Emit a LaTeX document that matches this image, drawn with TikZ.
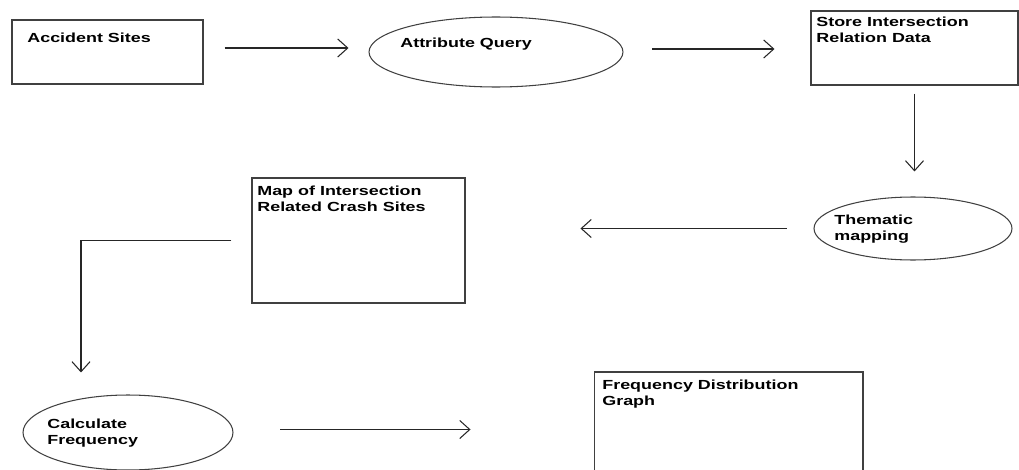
\documentclass[tikz,border=0pt]{standalone}
\usepackage{fontspec}
\setmainfont{Liberation Sans}[FakeStretch=1.36]
\usetikzlibrary{arrows.meta,shapes.geometric}

\begin{document}
\begin{tikzpicture}[x=0.02cm, y=-0.02cm,
    box/.style={draw=black!75, line width=0.6pt, inner sep=0pt},
    oval/.style={ellipse, draw=black!75, line width=0.6pt, inner sep=0pt},
    txt/.style={anchor=north west, inner sep=0pt, align=left, font=\bfseries\fontsize{7.5}{8.8}\selectfont},
    arr/.style={-{Straight Barb[length=2mm, width=3.6mm]}, line width=0.6pt, black!85}]
    \path[use as bounding box, clip] (0,0) rectangle (1019,470);
    % shapes
    \node[box, minimum width=3.82cm, minimum height=1.28cm] (sites) at (107.5, 52){};
    \node[oval, minimum width=5.08cm, minimum height=1.4cm] (query) at (496, 52){};
    \node[box, minimum width=4.14cm, minimum height=1.48cm] (store) at (914.5, 48){};
    \node[oval, minimum width=3.96cm, minimum height=1.26cm] (thematic) at (913, 228.5){};
    \node[box, minimum width=4.26cm, minimum height=2.5cm] (map) at (358.5, 240.5){};
    \node[oval, minimum width=4.2cm, minimum height=1.5cm] (calc) at (128, 432.5){};
    \node[box, minimum width=5.38cm, minimum height=2.16cm] (freq) at (728.5, 426){};
    % texts
    \node[txt] (sitesT) at (27, 33){Accident Sites};
    \node[txt] (queryT) at (400, 38){Attribute Query};
    \node[txt] (storeT) at (816, 17){Store Intersection\\Relation Data};
    \node[txt] (thematicT) at (834, 215){Thematic\\mapping};
    \node[txt] (mapT) at (257, 186){Map of Intersection\\Related Crash Sites};
    \node[txt] (calcT) at (47, 419){Calculate\\Frequency};
    \node[txt] (freqT) at (602, 380){Frequency Distribution\\Graph};
    % connectors
    \coordinate (bend) at (81, 240.5);
    \draw[arr, shorten <=0.42cm, shorten >=0.4cm] ([yshift=0.08cm]sites.east)--([yshift=0.08cm]sites.east -| query.west);
    \draw[arr, shorten <=0.58cm, shorten >=0.72cm] ([yshift=0.06cm]query.east)--([yshift=0.06cm]query.east -| store.west);
    \draw[arr, shorten <=0.16cm, shorten >=0.5cm] (store.south)--(store.south |- thematic.north);
    \draw[arr, shorten <=0.54cm, shorten >=2.3cm] (thematic.west)--(thematic.west -| map.east);
    \draw[arr, shorten <=0.4cm, shorten >=0.44cm] (map.west)--(bend)--(bend |- calc.north);
    \draw[arr, shorten <=0.94cm, shorten >=2.46cm] ([yshift=0.06cm]calc.east)--([yshift=0.06cm]calc.east -| freq.west);
  \end{tikzpicture}
\end{document}
